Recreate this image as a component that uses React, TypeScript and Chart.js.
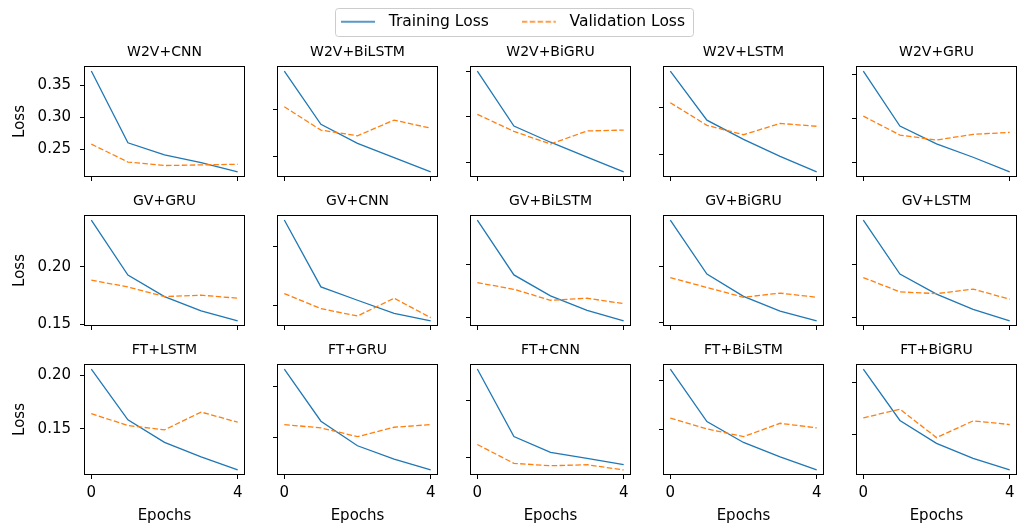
import React, { useEffect, useRef } from "react";
import { Chart, registerables } from "chart.js";

Chart.register(...registerables);

const FONT = "'DejaVu Sans', sans-serif";
const BLUE = "#1f77b4";
const ORANGE = "#ff7f0e";
const DASH = [5.5, 2.4];
const LINE_W = 1.3;

// ---- data ----
const EPOCHS = [0, 1, 2, 3, 4];
const X_TICKS = [0, 4];
const Y_TICK_STEP = 0.05;

const W2V_CNN_TRAIN = [0.372, 0.26, 0.241, 0.229, 0.2145];
const W2V_CNN_VAL = [0.258, 0.23, 0.2245, 0.2255, 0.2265];
const W2V_BILSTM_TRAIN = [0.34, 0.284, 0.264, 0.249, 0.234];
const W2V_BILSTM_VAL = [0.3025, 0.278, 0.272, 0.2885, 0.28];
const W2V_BIGRU_TRAIN = [0.351, 0.29, 0.272, 0.2555, 0.239];
const W2V_BIGRU_VAL = [0.303, 0.284, 0.27, 0.2845, 0.2855];
const W2V_LSTM_TRAIN = [0.3386, 0.2865, 0.266, 0.248, 0.2315];
const W2V_LSTM_VAL = [0.305, 0.281, 0.271, 0.283, 0.28];
const W2V_GRU_TRAIN = [0.3534, 0.2913, 0.2712, 0.2562, 0.2396];
const W2V_GRU_VAL = [0.3026, 0.2812, 0.2756, 0.282, 0.2842];

const GV_GRU_TRAIN = [0.2407, 0.1928, 0.1741, 0.1616, 0.1529];
const GV_GRU_VAL = [0.1884, 0.1825, 0.1741, 0.1753, 0.1727];
const GV_CNN_TRAIN = [0.2226, 0.1661, 0.1548, 0.1437, 0.1373];
const GV_CNN_VAL = [0.1604, 0.1477, 0.1415, 0.1565, 0.1401];
const GV_BILSTM_TRAIN = [0.2425, 0.1905, 0.1706, 0.157, 0.1469];
const GV_BILSTM_VAL = [0.1832, 0.1769, 0.1665, 0.1684, 0.1633];
const GV_BIGRU_TRAIN = [0.2409, 0.193, 0.1732, 0.1601, 0.1514];
const GV_BIGRU_VAL = [0.1898, 0.1811, 0.1724, 0.1761, 0.1724];
const GV_LSTM_TRAIN = [0.241, 0.1906, 0.1719, 0.1578, 0.1469];
const GV_LSTM_VAL = [0.1874, 0.174, 0.1724, 0.1766, 0.1672];

const FT_LSTM_TRAIN = [0.2056, 0.1584, 0.1375, 0.124, 0.1118];
const FT_LSTM_VAL = [0.1641, 0.1531, 0.1491, 0.1656, 0.1562];
const FT_GRU_TRAIN = [0.2175, 0.1664, 0.1424, 0.1293, 0.1187];
const FT_GRU_VAL = [0.1631, 0.1599, 0.1513, 0.1605, 0.1631];
const FT_CNN_TRAIN = [0.178, 0.1188, 0.105, 0.0997, 0.0941];
const FT_CNN_VAL = [0.1118, 0.0953, 0.0932, 0.0941, 0.0895];
const FT_BILSTM_TRAIN = [0.212, 0.1586, 0.1373, 0.1226, 0.1093];
const FT_BILSTM_VAL = [0.162, 0.1511, 0.1432, 0.1568, 0.1521];
const FT_BIGRU_TRAIN = [0.2131, 0.1636, 0.1416, 0.1271, 0.116];
const FT_BIGRU_VAL = [0.1661, 0.1745, 0.1471, 0.1632, 0.1597];

const PANELS = [
  ["W2V+CNN", W2V_CNN_TRAIN, W2V_CNN_VAL],
  ["W2V+BiLSTM", W2V_BILSTM_TRAIN, W2V_BILSTM_VAL],
  ["W2V+BiGRU", W2V_BIGRU_TRAIN, W2V_BIGRU_VAL],
  ["W2V+LSTM", W2V_LSTM_TRAIN, W2V_LSTM_VAL],
  ["W2V+GRU", W2V_GRU_TRAIN, W2V_GRU_VAL],
  ["GV+GRU", GV_GRU_TRAIN, GV_GRU_VAL],
  ["GV+CNN", GV_CNN_TRAIN, GV_CNN_VAL],
  ["GV+BiLSTM", GV_BILSTM_TRAIN, GV_BILSTM_VAL],
  ["GV+BiGRU", GV_BIGRU_TRAIN, GV_BIGRU_VAL],
  ["GV+LSTM", GV_LSTM_TRAIN, GV_LSTM_VAL],
  ["FT+LSTM", FT_LSTM_TRAIN, FT_LSTM_VAL],
  ["FT+GRU", FT_GRU_TRAIN, FT_GRU_VAL],
  ["FT+CNN", FT_CNN_TRAIN, FT_CNN_VAL],
  ["FT+BiLSTM", FT_BILSTM_TRAIN, FT_BILSTM_VAL],
  ["FT+BiGRU", FT_BIGRU_TRAIN, FT_BIGRU_VAL],
] as [string, number[], number[]][];

// ---- layout ----
const COL_LEFT = [84, 277, 470, 663, 856];
const ROW_TOP = [66, 215, 364];
const PLOT_W = 161;
const PLOT_H = 111;
const PAD_L = 84;
const PAD_T = 36;
const PAD_B = 54;
const PAD_R = 14;

const framePlugin = {
  id: "frame",
  afterDraw(chart: any) {
    const { ctx, chartArea } = chart;
    const l = Math.round(chartArea.left) + 0.5;
    const t = Math.round(chartArea.top) + 0.5;
    const r = Math.round(chartArea.right) - 0.5;
    const b = Math.round(chartArea.bottom) - 0.5;
    ctx.save();
    ctx.strokeStyle = "#000";
    ctx.lineWidth = 1;
    ctx.setLineDash([]);
    ctx.strokeRect(l, t, r - l, b - t);
    ctx.restore();
  },
};

function Panel({ idx }: { idx: number }) {
  const ref = useRef<HTMLCanvasElement>(null);
  const row = Math.floor(idx / 5);
  const col = idx % 5;
  const [title, train, val] = PANELS[idx];
  useEffect(() => {
    const all = [...train, ...val];
    const lo = Math.min(...all);
    const hi = Math.max(...all);
    const m = (hi - lo) * 0.05;
    const yMin = lo - m;
    const yMax = hi + m;
    const chart = new Chart(ref.current as HTMLCanvasElement, {
      type: "line",
      data: {
        datasets: [
          {
            label: "Validation Loss",
            data: EPOCHS.map((e, i) => ({ x: e, y: val[i] })),
            borderColor: ORANGE,
            borderWidth: LINE_W,
            borderDash: DASH,
            pointRadius: 0,
            tension: 0,
            fill: false,
          },
          {
            label: "Training Loss",
            data: EPOCHS.map((e, i) => ({ x: e, y: train[i] })),
            borderColor: BLUE,
            borderWidth: LINE_W,
            pointRadius: 0,
            tension: 0,
            fill: false,
          },
        ],
      },
      options: {
        animation: false,
        responsive: false,
        events: [],
        layout: { padding: { left: 0, right: PAD_R, top: 0, bottom: 0 } },
        plugins: {
          legend: { display: false },
          tooltip: { enabled: false },
          title: {
            display: true,
            text: title,
            fullSize: false,
            color: "#000",
            font: { family: FONT, size: 14, weight: "normal" },
            padding: { top: 13.6, bottom: 5.6 },
          },
        },
        scales: {
          x: {
            type: "linear",
            min: -0.2,
            max: 4.2,
            afterBuildTicks: (s: any) => {
              s.ticks = X_TICKS.map((v) => ({ value: v }));
            },
            afterFit: (s: any) => {
              s.height = PAD_B;
            },
            grid: { drawOnChartArea: false, drawTicks: true, tickLength: 4, color: "#000", lineWidth: 1 },
            border: { display: false },
            ticks: {
              callback: (v: any) => (row === 2 ? String(v) : ""),
              padding: 5,
              color: "#000",
              font: { family: FONT, size: 15 },
              maxRotation: 0,
              autoSkip: false,
            },
            title: {
              display: row === 2,
              text: "Epochs",
              color: "#000",
              font: { family: FONT, size: 15 },
              padding: { top: 0, bottom: 4 },
            },
          },
          y: {
            type: "linear",
            min: yMin,
            max: yMax,
            afterBuildTicks: (s: any) => {
              const ticks = [];
              const k0 = Math.ceil(yMin / Y_TICK_STEP - 1e-9);
              const k1 = Math.floor(yMax / Y_TICK_STEP + 1e-9);
              for (let k = k0; k <= k1; k++) ticks.push({ value: +(k * Y_TICK_STEP).toFixed(4) });
              s.ticks = ticks;
            },
            afterFit: (s: any) => {
              s.width = PAD_L;
            },
            grid: { drawOnChartArea: false, drawTicks: true, tickLength: 4, color: "#000", lineWidth: 1 },
            border: { display: false },
            ticks: {
              callback: (v: any) => (col === 0 ? Number(v).toFixed(2) : ""),
              padding: 9,
              color: "#000",
              font: { family: FONT, size: 15 },
              autoSkip: false,
            },
            title: {
              display: col === 0,
              text: "Loss",
              color: "#000",
              font: { family: FONT, size: 15 },
              padding: { top: 11.5, bottom: 0 },
            },
          },
        },
      } as any,
      plugins: [framePlugin],
    });
    return () => chart.destroy();
  }, []);
  return (
    <canvas
      ref={ref}
      width={PAD_L + PLOT_W + PAD_R}
      height={PAD_T + PLOT_H + PAD_B}
      style={{
        position: "absolute",
        left: COL_LEFT[col] - PAD_L,
        top: ROW_TOP[row] - PAD_T,
        width: PAD_L + PLOT_W + PAD_R,
        height: PAD_T + PLOT_H + PAD_B,
      }}
    />
  );
}

const LEGEND_LABELS = ["Training Loss", "Validation Loss"];
const LEGEND_KEY_W = 40;
const LEGEND_LINE_W = 34;
const LEGEND_GAP = 33;
const LEGEND_FONT = 15.5;

function makeKey(color: string, dash: number[]) {
  const c = document.createElement("canvas");
  c.width = LEGEND_KEY_W;
  c.height = 8;
  const g = c.getContext("2d") as CanvasRenderingContext2D;
  g.strokeStyle = color;
  g.lineWidth = LINE_W;
  g.setLineDash(dash);
  g.beginPath();
  g.moveTo(0, 4);
  g.lineTo(LEGEND_LINE_W, 4);
  g.stroke();
  return c;
}

const legendFramePlugin = {
  id: "legendFrame",
  afterDraw(chart: any) {
    const boxes = chart.legend && chart.legend.legendHitBoxes;
    if (!boxes || !boxes.length) return;
    const first = boxes[0];
    const last = boxes[boxes.length - 1];
    const cy = first.top + first.height / 2;
    const x0 = Math.round(first.left - 6) + 0.5;
    const x1 = Math.round(last.left + last.width + 8) + 0.5;
    const y0 = Math.round(cy - 14) + 0.5;
    const y1 = Math.round(cy + 14) + 0.5;
    const { ctx } = chart;
    ctx.save();
    ctx.strokeStyle = "#cccccc";
    ctx.lineWidth = 1;
    ctx.beginPath();
    ctx.roundRect(x0, y0, x1 - x0, y1 - y0, 3);
    ctx.stroke();
    ctx.restore();
  },
};

function Legend() {
  const ref = useRef<HTMLCanvasElement>(null);
  useEffect(() => {
    const keys = [makeKey(BLUE, []), makeKey(ORANGE, DASH)];
    const colors = [BLUE, ORANGE];
    const chart = new Chart(ref.current as HTMLCanvasElement, {
      type: "line",
      data: { datasets: [] },
      options: {
        animation: false,
        responsive: false,
        events: [],
        scales: { x: { display: false }, y: { display: false } },
        plugins: {
          tooltip: { enabled: false },
          legend: {
            display: true,
            position: "top",
            maxHeight: 400,
            labels: {
              usePointStyle: true,
              pointStyleWidth: LEGEND_KEY_W,
              padding: LEGEND_GAP,
              color: "#000",
              font: { family: FONT, size: LEGEND_FONT },
              generateLabels: () =>
                LEGEND_LABELS.map((t, i) => ({
                  text: t,
                  pointStyle: keys[i],
                  fillStyle: colors[i],
                  strokeStyle: colors[i],
                  lineWidth: 0,
                  hidden: false,
                  datasetIndex: i,
                  fontColor: "#000",
                })),
            },
          },
        },
      } as any,
      plugins: [legendFramePlugin],
    });
    return () => chart.destroy();
  }, []);
  return (
    <canvas
      ref={ref}
      width={1026}
      height={200}
      style={{ position: "absolute", left: 0, top: -19, width: 1026, height: 200 }}
    />
  );
}

export default function App() {
  return (
    <div
      style={{
        position: "fixed",
        left: 0,
        top: 0,
        width: 1026,
        height: 529,
        overflow: "hidden",
        background: "#fff",
      }}
    >
      <Legend />
      {PANELS.map((_, i) => (
        <Panel key={i} idx={i} />
      ))}
    </div>
  );
}
